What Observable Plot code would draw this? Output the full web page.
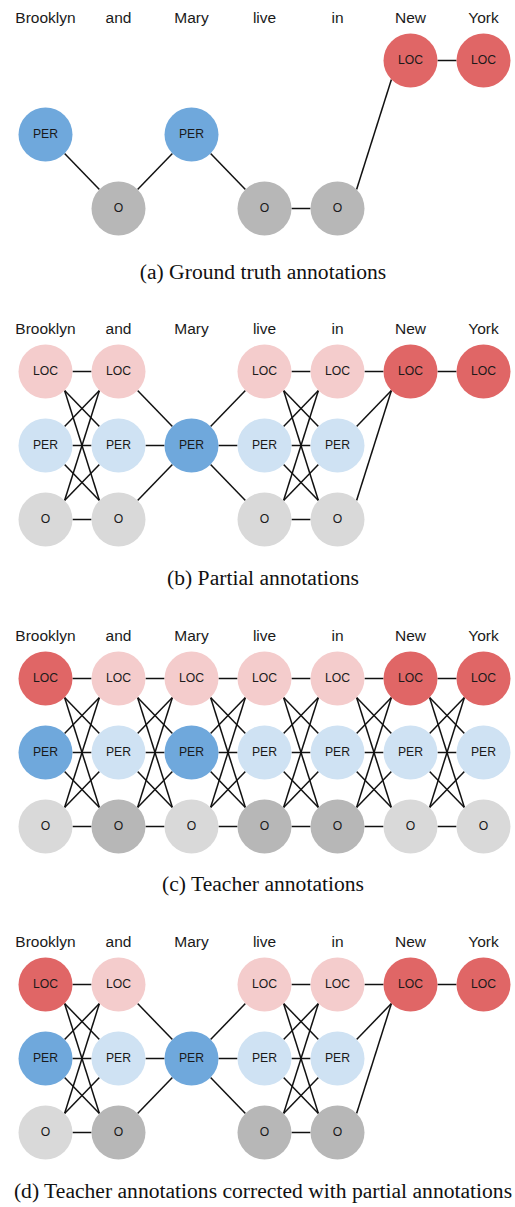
<!DOCTYPE html>
<html>
<head>
<meta charset="utf-8">
<script src="https://cdn.jsdelivr.net/npm/d3@7"></script>
<script src="https://cdn.jsdelivr.net/npm/@observablehq/plot@0.6"></script>
<style>
  html, body { margin: 0; padding: 0; background: #fff; }
  #page { position: relative; width: 515px; height: 1207px; overflow: hidden; }
  .panel { position: absolute; left: 0; }
  .caption {
    position: absolute; left: 263px; transform: translateX(-50%);
    white-space: nowrap; font-family: "Liberation Serif", "Times New Roman", serif;
    font-size: 21.6px; line-height: 21.6px; color: #111;
  }
</style>
</head>
<body>
<div id="page"></div>
<script>
// ---- data ----
const words = ["Brooklyn", "and", "Mary", "live", "in", "New", "York"];
const labels = ["LOC", "PER", "O"];
const goldTags = ["PER", "O", "PER", "O", "O", "LOC", "LOC"];
const partialCandidates = [
  ["LOC", "PER", "O"], ["LOC", "PER", "O"], ["PER"],
  ["LOC", "PER", "O"], ["LOC", "PER", "O"], ["LOC"], ["LOC"]
];
const teacherTags = [["LOC", "PER"], ["O"], ["PER"], ["O"], ["O"], ["LOC"], ["LOC"]];
const captions = [
  "(a) Ground truth annotations",
  "(b) Partial annotations",
  "(c) Teacher annotations",
  "(d) Teacher annotations corrected with partial annotations"
];
const colorKeys = ["LOC", "LOC-light", "PER", "PER-light", "O", "O-light"];
const colorValues = ["#e06666", "#f4cccc", "#6fa8dc", "#cfe2f3", "#b7b7b7", "#d9d9d9"];

// ---- layout ----
const panelTops = [0, 311, 618, 924];
const captionBaselines = [280, 586, 892, 1199];
const R = 27;

// ---- build node sets for each panel ----
const panels = [
  words.map((w, i) => [{word: w, tag: goldTags[i], dark: true}]),
  words.map((w, i) => partialCandidates[i].map(t => ({word: w, tag: t, dark: partialCandidates[i].length === 1}))),
  words.map((w, i) => labels.map(t => ({word: w, tag: t, dark: teacherTags[i].includes(t)}))),
  words.map((w, i) => partialCandidates[i].map(t => ({word: w, tag: t, dark: partialCandidates[i].length === 1 || teacherTags[i].includes(t)})))
];

// curve that attaches a link to the "ports" on the circle rims
function portCurve(context) {
  let pts = [];
  return {
    areaStart() {}, areaEnd() {},
    lineStart() { pts = []; },
    point(x, y) { pts.push([+x, +y]); },
    lineEnd() {
      if (pts.length < 2) return;
      const [[x1, y1], [x2, y2]] = pts;
      const s = Math.sign(y2 - y1);
      let ax, ay, bx, by;
      if (s === 0) {
        ax = x1 + R; ay = y1; bx = x2 - R; by = y2;
      } else {
        const k = R * Math.SQRT1_2;
        ax = x1 + k; ay = y1 + s * k; bx = x2 - k; by = y2 - s * k;
      }
      context.moveTo(ax, ay);
      context.lineTo(bx, by);
    }
  };
}

const page = document.getElementById("page");

panels.forEach((cols, p) => {
  const nodes = cols.flat().map(d => ({...d, key: d.dark ? d.tag : d.tag + "-light"}));
  const edges = [];
  for (let i = 0; i < cols.length - 1; i++) {
    for (const a of cols[i]) for (const b of cols[i + 1]) {
      edges.push({w1: a.word, t1: a.tag, w2: b.word, t2: b.tag});
    }
  }
  const chart = Plot.plot({
    width: 515,
    height: 240,
    marginTop: 60,
    marginBottom: 32,
    marginLeft: 43,
    marginRight: 30,
    style: {fontFamily: "'Liberation Sans', Arial, Helvetica, sans-serif", background: "white", color: "#111"},
    x: {type: "point", domain: words, padding: 0, axis: null},
    y: {type: "point", domain: labels, padding: 0, axis: null},
    color: {type: "ordinal", domain: colorKeys, range: colorValues},
    marks: [
      Plot.axisX({anchor: "top", tickSize: 0, tickPadding: 38, fontSize: 15.5, label: null, fill: "#1a1a1a"}),
      Plot.link(edges, {x1: "w1", y1: "t1", x2: "w2", y2: "t2", curve: portCurve, stroke: "#111", strokeWidth: 1.5}),
      Plot.dot(nodes, {x: "word", y: "tag", r: R, fill: "key", stroke: "none"}),
      Plot.text(nodes, {x: "word", y: "tag", text: "tag", fontSize: 12.2, fill: "#1a1a1a"})
    ]
  });
  const wrap = document.createElement("div");
  wrap.className = "panel";
  wrap.style.top = panelTops[p] + "px";
  wrap.appendChild(chart);
  page.appendChild(wrap);

  const cap = document.createElement("div");
  cap.className = "caption";
  cap.style.top = (captionBaselines[p] - 18) + "px";
  cap.textContent = captions[p];
  page.appendChild(cap);
});
</script>
</body>
</html>
